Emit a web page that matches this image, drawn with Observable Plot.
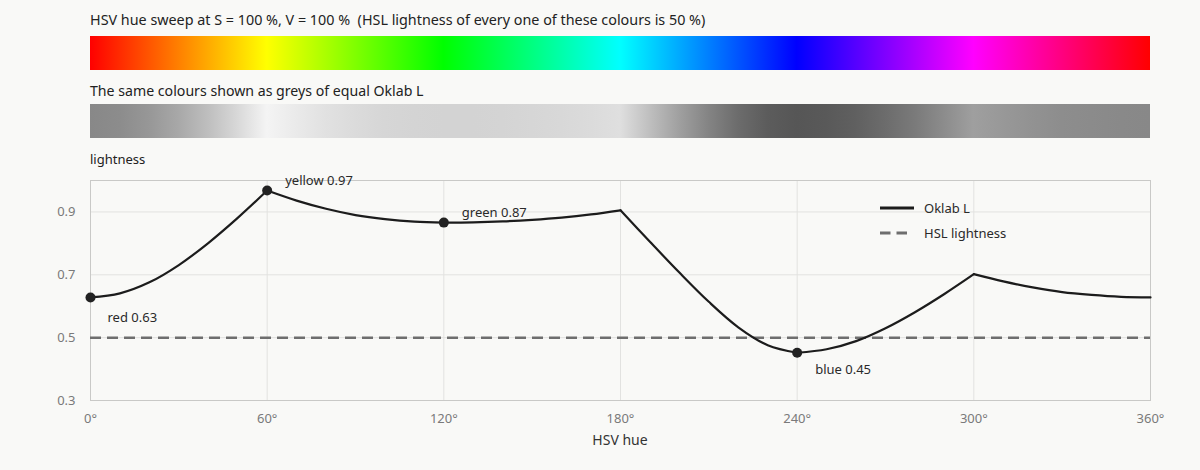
<!DOCTYPE html>
<html>
<head>
<meta charset="utf-8">
<script src="https://cdn.jsdelivr.net/npm/d3@7"></script>
<script src="https://cdn.jsdelivr.net/npm/@observablehq/plot@0.6"></script>
<style>
  html, body { margin: 0; padding: 0; background: #f9f9f7; }
  #wrap { position: relative; width: 1200px; height: 470px; font-family: "Noto Sans", sans-serif; color: #222; }
  .txt { position: absolute; white-space: pre; line-height: 20px; }
  .abs { position: absolute; left: 0; }
</style>
</head>
<body>
<div id="wrap">
  <div class="txt" style="left:90px; top:10px; font-size:14.35px;">HSV hue sweep at S = 100 %, V = 100 %  (HSL lightness of every one of these colours is 50 %)</div>
  <div id="hueStrip" class="abs" style="top:36px;"></div>
  <div class="txt" style="left:90px; top:81px; font-size:14.15px;">The same colours shown as greys of equal Oklab L</div>
  <div id="greyStrip" class="abs" style="top:104px;"></div>
  <div class="txt" style="left:90px; top:149px; font-size:13px;">lightness</div>
  <div id="chart" class="abs" style="top:170px;"></div>
  <div class="txt" style="left:0; width:1240px; text-align:center; top:430px; font-size:14px; color:#333;">HSV hue</div>
  <svg id="legend" style="position:absolute; left:870px; top:195px;" width="200" height="50"></svg>
</div>
<script>
// ---- data ----
const hues = [0, 10, 20, 30, 40, 50, 60, 70, 80, 90, 100, 110, 120, 130, 140, 150, 160, 170, 180,
              190, 200, 210, 220, 230, 240, 250, 260, 270, 280, 290, 300, 310, 320, 330, 340, 350, 360];
const oklabL = [0.628, 0.641, 0.676, 0.731, 0.801, 0.881, 0.968, 0.936, 0.910, 0.890, 0.877, 0.869, 0.866,
                0.867, 0.870, 0.875, 0.882, 0.892, 0.905, 0.805, 0.707, 0.614, 0.533, 0.476, 0.452,
                0.463, 0.489, 0.530, 0.581, 0.639, 0.702, 0.679, 0.660, 0.645, 0.636, 0.630, 0.628];
const keyNames = ["red", "yellow", "green", "blue"];
const keyHues = [0, 60, 120, 240];
const keyL = [0.628, 0.968, 0.866, 0.452];
const hslLightness = 0.5;
const sweepHues = [0, 60, 120, 180, 240, 300, 360];
const sweepColours = ["#ff0000", "#ffff00", "#00ff00", "#00ffff", "#0000ff", "#ff00ff", "#ff0000"];
const xTicks = [0, 60, 120, 180, 240, 300, 360];
const yTicks = [0.3, 0.5, 0.7, 0.9];

const FONT = "Noto Sans, sans-serif";

// ---- strips ----
function strip(gradId, stops) {
  const svg = Plot.plot({
    width: 1200, height: 34,
    marginLeft: 90, marginRight: 50, marginTop: 0, marginBottom: 0,
    style: { background: "transparent" },
    x: { domain: [hues[0], hues[hues.length - 1]], axis: null },
    y: { domain: [0, 1], axis: null },
    marks: [
      Plot.rect([{ a: hues[0], b: hues[hues.length - 1] }], { x1: "a", x2: "b", y1: 0, y2: 1, fill: `url(#${gradId})` })
    ]
  });
  const grad = d3.select(svg).append("defs").append("linearGradient")
    .attr("id", gradId).attr("x1", "0%").attr("x2", "100%").attr("y1", "0%").attr("y2", "0%");
  stops.forEach(s => grad.append("stop").attr("offset", (s.h / 360 * 100) + "%").attr("stop-color", s.c));
  return svg;
}
document.getElementById("hueStrip").append(
  strip("hueGrad", sweepHues.map((h, i) => ({ h, c: sweepColours[i] })))
);
document.getElementById("greyStrip").append(
  strip("greyGrad", hues.map((h, i) => ({ h, c: d3.gray(116 * oklabL[i] - 16).formatHex() })))
);

// ---- main chart ----
const lineData = [];
for (let k = 0; k < 6; k++) {
  hues.forEach((h, i) => {
    if (h >= 60 * k && h <= 60 * (k + 1)) lineData.push({ hue: h, L: oklabL[i], seg: k });
  });
}
const keyData = keyNames.map((n, i) => ({ name: n, hue: keyHues[i], L: keyL[i], label: `${n} ${keyL[i].toFixed(2)}` }));

const chart = Plot.plot({
  width: 1200, height: 300,
  marginLeft: 90, marginRight: 50, marginTop: 10, marginBottom: 70,
  style: { background: "transparent", fontFamily: FONT, fontSize: "13px", color: "#7a7a7a" },
  x: { domain: [0, 360], ticks: xTicks, tickFormat: d => d + "°", tickSize: 0, tickPadding: 13, label: null },
  y: { domain: [0.3, 1.0], ticks: yTicks, tickFormat: d3.format(".1f"), tickSize: 0, tickPadding: 15, label: null },
  marks: [
    Plot.gridX(xTicks, { stroke: "#e2e2e0", strokeOpacity: 1 }),
    Plot.gridY(yTicks, { stroke: "#e2e2e0", strokeOpacity: 1 }),
    Plot.frame({ stroke: "#c9c9c7" }),
    Plot.ruleY([hslLightness], { stroke: "#6e6e6e", strokeWidth: 2.5, strokeDasharray: "11,6" }),
    Plot.line(lineData, { x: "hue", y: "L", z: "seg", curve: "catmull-rom", stroke: "#1c1c1c", strokeWidth: 2.2 }),
    Plot.dot(keyData, { x: "hue", y: "L", r: 5, fill: "#222", stroke: "none" }),
    Plot.text(keyData.filter(d => d.name === "yellow" || d.name === "green"),
      { x: "hue", y: "L", text: "label", dx: 18, dy: -10, textAnchor: "start", fill: "#2a2a2a", fontSize: 13 }),
    Plot.text(keyData.filter(d => d.name === "red"),
      { x: "hue", y: "L", text: "label", dx: 17, dy: 20, textAnchor: "start", fill: "#2a2a2a", fontSize: 13 }),
    Plot.text(keyData.filter(d => d.name === "blue"),
      { x: "hue", y: "L", text: "label", dx: 18, dy: 17, textAnchor: "start", fill: "#2a2a2a", fontSize: 13 })
  ]
});
document.getElementById("chart").append(chart);

// ---- legend ----
const lg = d3.select("#legend");
lg.append("line").attr("x1", 10).attr("x2", 44).attr("y1", 13).attr("y2", 13)
  .attr("stroke", "#1c1c1c").attr("stroke-width", 3);
lg.append("line").attr("x1", 10).attr("x2", 38).attr("y1", 38).attr("y2", 38)
  .attr("stroke", "#6e6e6e").attr("stroke-width", 3).attr("stroke-dasharray", "10.5,6");
lg.append("text").attr("x", 54).attr("y", 13).attr("dy", "0.35em").text("Oklab L")
  .attr("font-family", FONT).attr("font-size", 13).attr("fill", "#2a2a2a");
lg.append("text").attr("x", 54).attr("y", 38).attr("dy", "0.35em").text("HSL lightness")
  .attr("font-family", FONT).attr("font-size", 13).attr("fill", "#2a2a2a");
</script>
</body>
</html>
